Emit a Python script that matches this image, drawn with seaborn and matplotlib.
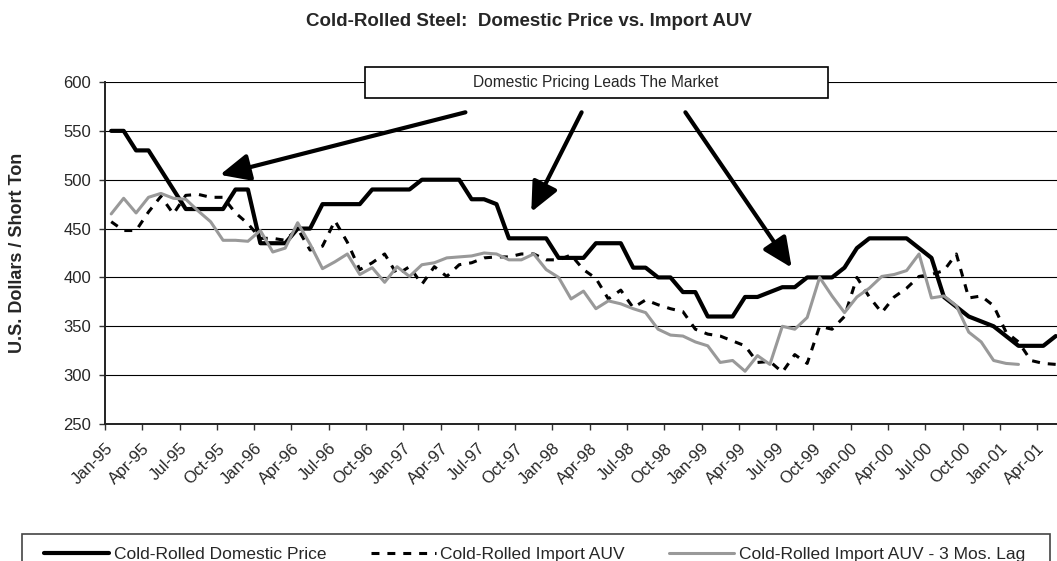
import matplotlib
matplotlib.use("Agg")
import matplotlib.pyplot as plt
import matplotlib.patches as mpatches
import matplotlib.transforms as mtransforms
import seaborn as sns
import pandas as pd

# monthly values, Jan-95 onward
domestic_price = [550, 550, 530, 530, 510, 490, 470, 470, 470, 470,
                  490, 490, 435, 435, 435, 450, 450, 475, 475, 475,
                  475, 490, 490, 490, 490, 500, 500, 500, 500, 480,
                  480, 475, 440, 440, 440, 440, 420, 420, 420, 435,
                  435, 435, 410, 410, 400, 400, 385, 385, 360, 360,
                  360, 380, 380, 385, 390, 390, 400, 400, 400, 410,
                  430, 440, 440, 440, 440, 430, 420, 380, 370, 360,
                  355, 350, 340, 330, 330, 330, 340]

import_auv = [457, 448, 448, 467, 483, 465, 484, 485, 482, 482,
              466, 455, 440, 440, 438, 450, 428, 432, 458, 436,
              408, 415, 424, 403, 411, 393, 411, 401, 413, 415,
              420, 421, 421, 424, 424, 418, 418, 423, 408, 399,
              378, 387, 369, 377, 372, 368, 365, 347, 342, 340,
              335, 330, 313, 314, 303, 321, 312, 350, 347, 360,
              400, 380, 364, 380, 389, 401, 403, 407, 424, 379,
              381, 371, 344, 334, 315, 312, 311]

import_auv_lag = [465, 481, 466, 482, 486, 481, 480, 468, 457, 438,
                  438, 437, 448, 426, 430, 456, 434, 409, 416, 424,
                  403, 410, 395, 411, 401, 413, 415, 420, 421, 422,
                  425, 424, 418, 418, 424, 408, 400, 378, 386, 368,
                  376, 373, 368, 364, 347, 341, 340, 334, 330, 313,
                  315, 304, 320, 311, 350, 347, 359, 400, 381, 364,
                  380, 389, 401, 403, 407, 424, 379, 381, 371, 344,
                  334, 315, 312, 311]

tick_labels = ["Jan-95", "Apr-95", "Jul-95", "Oct-95", "Jan-96", "Apr-96",
               "Jul-96", "Oct-96", "Jan-97", "Apr-97", "Jul-97", "Oct-97",
               "Jan-98", "Apr-98", "Jul-98", "Oct-98", "Jan-99", "Apr-99",
               "Jul-99", "Oct-99", "Jan-00", "Apr-00", "Jul-00", "Oct-00",
               "Jan-01", "Apr-01"]

W, H = 1057, 561

sns.set_style("white")
plt.rcParams["font.family"] = ["Liberation Sans", "DejaVu Sans"]

fig = plt.figure(figsize=(W / 100, H / 100), dpi=100)
ax = fig.add_axes([105 / W, 1 - 424 / H, 1 - 105 / W, (424 - 82) / H])

dom = pd.DataFrame({"m": range(len(domestic_price)), "v": domestic_price})
auv = pd.DataFrame({"m": range(len(import_auv)), "v": import_auv})
lag = pd.DataFrame({"m": range(len(import_auv_lag)), "v": import_auv_lag})

sns.lineplot(data=dom, x="m", y="v", ax=ax, color="black", lw=3.0,
             label="Cold-Rolled Domestic Price", zorder=3)
sns.lineplot(data=auv, x="m", y="v", ax=ax, color="black", lw=2.2,
             linestyle=(0, (2.6, 2.6)), label="Cold-Rolled Import AUV", zorder=4)
sns.lineplot(data=lag, x="m", y="v", ax=ax, color="#999999", lw=2.2,
             label="Cold-Rolled Import AUV - 3 Mos. Lag", zorder=5)

ax.set_xlim(-0.5, 76.1)
ax.set_ylim(250, 600)
ax.set_yticks(range(250, 601, 50))
ax.set_xticks([i * 3 - 0.5 for i in range(len(tick_labels))])
ax.set_xticklabels(tick_labels, rotation=45, ha="right", va="top",
                   rotation_mode="anchor")
offset = mtransforms.ScaledTranslation(-3 / 100, 0, fig.dpi_scale_trans)
for lbl in ax.get_xticklabels():
    lbl.set_transform(lbl.get_transform() + offset)

ax.yaxis.grid(True, color="black", lw=0.8)
ax.xaxis.grid(False)
ax.set_axisbelow(True)
ax.tick_params(axis="both", bottom=True, left=True, direction="out",
               length=4, width=1, color="#333333", labelsize=12)
ax.tick_params(axis="x", pad=8)
ax.tick_params(axis="y", pad=6)
sns.despine(ax=ax)
for s in ("left", "bottom"):
    ax.spines[s].set_color("#222222")
    ax.spines[s].set_linewidth(1.4)
ax.set_xlabel("")
ax.set_ylabel("")

# legend frame runs past the bottom edge, as in the original export
frame = mpatches.Rectangle((22 / W, -20 / H), 1028 / W, (561 - 534 + 20) / H,
                           transform=fig.transFigure, facecolor="white",
                           edgecolor="#444444", lw=1.2, zorder=1)
fig.patches.append(frame)

handles, labels = ax.get_legend_handles_labels()
ax.get_legend().remove()
leg = fig.legend(handles, labels, ncol=3, loc="center left",
                 bbox_to_anchor=(44 / W, 1 - 554 / H), fontsize=12.5,
                 handlelength=3.75, handletextpad=0.27, columnspacing=2.55,
                 borderpad=0, borderaxespad=0, frameon=False)
leg.set_zorder(2)

fig.text(0.5, 1 - 21 / H, "Cold-Rolled Steel:  Domestic Price vs. Import AUV",
         ha="center", va="center", fontsize=13.5, fontweight="bold")
fig.text(18 / W, 1 - 253 / H, "U.S. Dollars / Short Ton", rotation=90,
         ha="center", va="center", fontsize=13, fontweight="bold")

box = mpatches.Rectangle((365 / W, 1 - 98 / H), 463 / W, 31 / H,
                         transform=fig.transFigure, facecolor="white",
                         edgecolor="black", lw=1.2, zorder=10)
fig.patches.append(box)
fig.text(596 / W, 1 - 83 / H, "Domestic Pricing Leads The Market",
         ha="center", va="center", fontsize=11.2, zorder=11)

arrow_style = dict(arrowstyle="-|>,head_length=1.2,head_width=0.55",
                   lw=3, color="black", shrinkA=0, shrinkB=0,
                   mutation_scale=15)
for start, tip in [((28.5, 569), (8.75, 505)),
                   ((37.85, 569), (33.8, 467)),
                   ((46.2, 569), (54.75, 410))]:
    ax.annotate("", xy=tip, xytext=start, arrowprops=arrow_style, zorder=6)

fig.savefig("out.png", dpi=100)
